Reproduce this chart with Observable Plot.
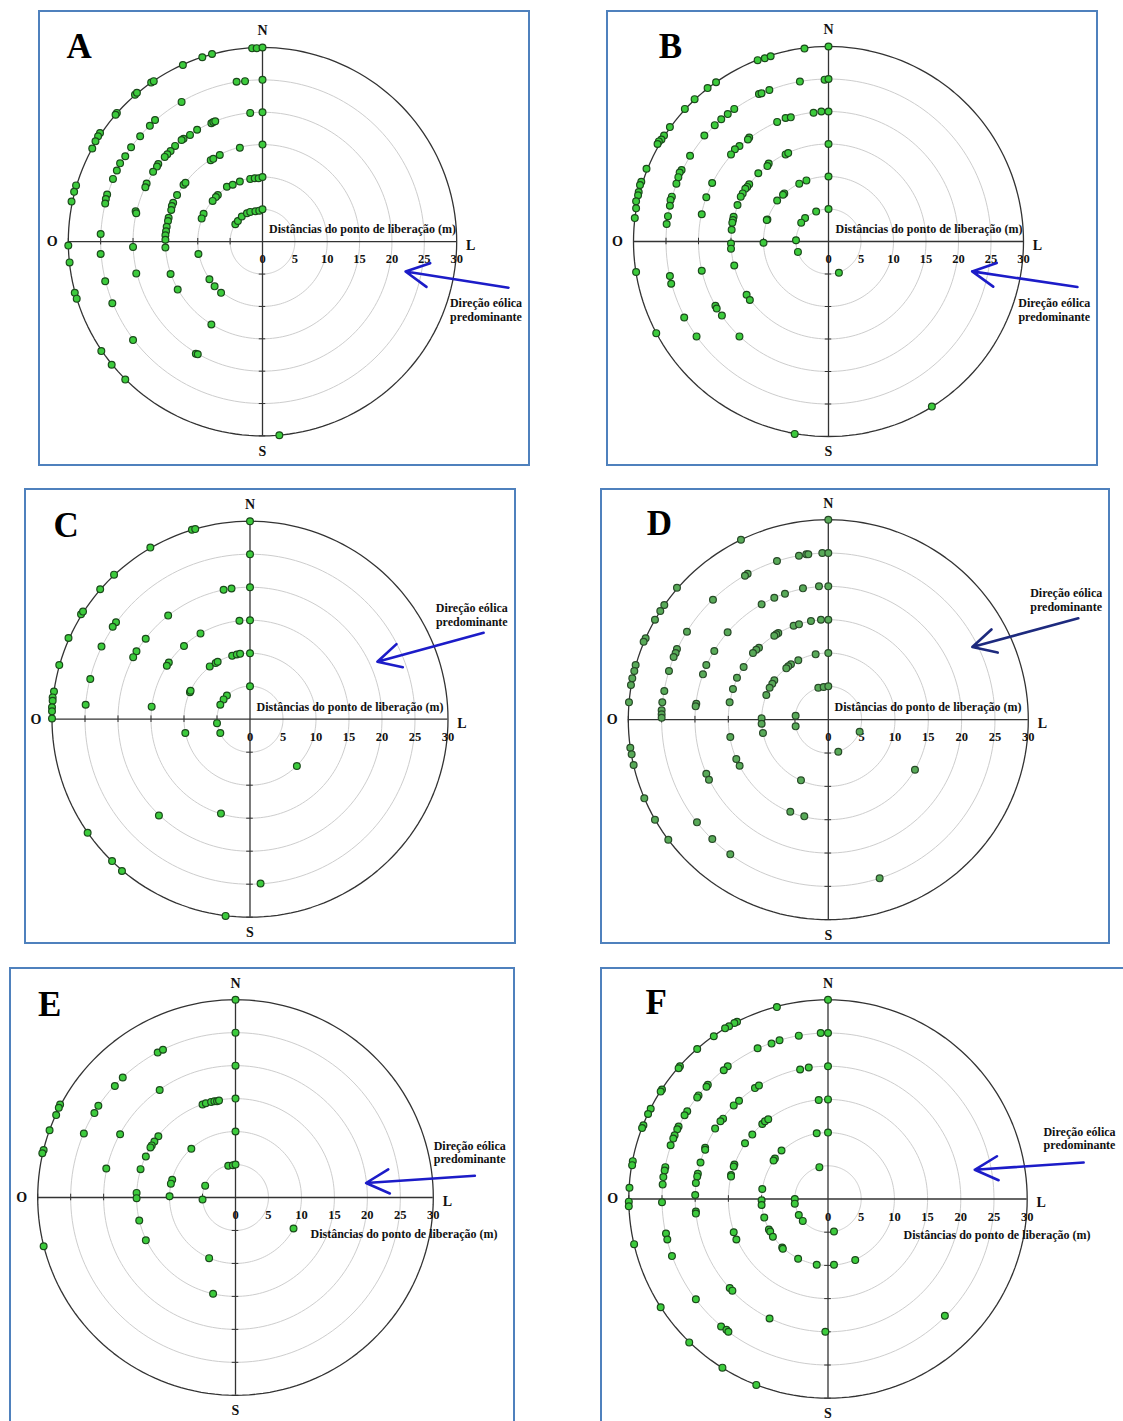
<!DOCTYPE html>
<html>
<head>
<meta charset="utf-8">
<script src="https://cdn.jsdelivr.net/npm/d3@7"></script>
<script src="https://cdn.jsdelivr.net/npm/@observablehq/plot@0.6"></script>
<style>
html,body{margin:0;padding:0;background:#fff;overflow:hidden;}
#page{position:relative;width:1123px;height:1421px;overflow:hidden;background:#fff;}
.panel{position:absolute;}
.panel svg{position:absolute;left:0;top:0;overflow:visible;}
.frame{position:absolute;left:0;top:0;right:0;bottom:0;border:2px solid #4f81bd;box-sizing:border-box;pointer-events:none;}
</style>
</head>
<body>
<div id="page"></div>
<script>
// ---- data: capture points, [east (m), north (m)] relative to the release point ----
const dataA = [
[-1.6,29.9],[-0.9,29.9],[0,30],[-9.3,28.5],[-7.8,29.0],[-12.3,27.3],[-17.2,24.6],[-16.8,24.8],[-19.7,22.7],[-19.4,23.0],[-22.5,19.9],[-22.7,19.6],[-25.1,16.8],[-25.4,16.3],[-25.8,15.5],[-26.3,14.4],[-28.8,8.7],[-29.1,7.7],[-29.5,6.2],[-30,-0.6],[-29.8,-3.2],[-29.0,-7.9],[-28.7,-8.8],[-24.9,-16.9],[-23.3,-19.0],[-21.2,-21.3],[2.6,-29.9],
[-4.0,24.7],[-2.7,24.8],[0,25],[-12.5,21.6],[-16.6,18.8],[-17.4,17.9],[-18.9,16.3],[-20.3,14.6],[-21.2,13.2],[-22.0,12.1],[-22.5,11.0],[-23.1,9.7],[-24.0,7.3],[-24.2,6.6],[-24.3,5.9],[-25.0,1.2],[-25.0,-1.9],[-24.3,-6.1],[-23.2,-9.5],[-20.0,-15.2],
[-1.9,19.9],[0,20],[-7.9,18.3],[-7.6,18.5],[-7.3,18.6],[-10.1,17.3],[-11.2,16.5],[-12.2,15.9],[-12.5,15.7],[-13.5,14.8],[-14.2,14.0],[-14.7,13.5],[-15.1,13.1],[-16.1,12.0],[-16.3,11.6],[-16.9,10.8],[-17.9,9.0],[-18.1,8.4],[-19.6,4.7],[-19.5,4.4],[-20.0,-0.8],[-19.5,-4.9],[-10.3,-17.3],[-10.0,-17.4],
[-3.5,14.5],[0,15],[-8.0,12.6],[-7.6,12.8],[-6.6,13.4],[-12.2,8.8],[-11.9,9.1],[-13.2,7.2],[-13.8,6.0],[-14.0,5.5],[-14.1,4.9],[-14.5,3.7],[-14.6,3.2],[-14.8,2.3],[-14.9,1.6],[-15.0,1.0],[-15.0,0.3],[-15.0,-0.9],[-14.2,-5.0],[-13.1,-7.4],[-7.9,-12.8],
[-3.5,9.3],[-1.9,9.7],[-1.2,9.8],[-0.6,9.8],[0,10],[-5.5,8.5],[-4.6,8.8],[-6.9,7.2],[-7.2,6.9],[-7.7,6.3],[-9.1,4.3],[-9.4,3.6],[-9.9,-1.9],[-8.2,-5.8],[-7.4,-6.9],[-6.4,-7.9],
[-4.2,2.7],[-3.8,3.2],[-3.2,3.9],[-2.4,4.4],[-1.9,4.6],[-1.1,4.7],[-0.5,4.8],[0,5]
];
const dataB = [
[-3.7,29.7],[0,30],[-10.9,27.9],[-9.8,28.2],[-8.9,28.5],[-17.3,24.5],[-18.6,23.6],[-20.6,21.9],[-22.1,20.4],[-24.4,17.6],[-25.3,16.3],[-25.7,15.7],[-26.1,15.4],[-26.3,15.0],[-28.0,11.2],[-28.8,9.2],[-29.0,8.7],[-29.2,7.6],[-29.3,7.1],[-29.6,6.2],[-29.6,5.1],[-29.8,3.6],[-29.6,-4.7],[-26.5,-14.1],[-5.2,-29.6],[15.9,-25.4],
[-4.4,24.6],[-0.6,24.9],[0,25],[-10.7,22.7],[-10.3,22.8],[-9.1,23.3],[-14.5,20.4],[-15.5,19.6],[-16.5,18.8],[-17.5,17.9],[-19.1,16.3],[-21.3,13.2],[-22.6,11.0],[-22.9,10.6],[-23.1,9.9],[-23.4,8.9],[-24.1,6.9],[-24.3,6.4],[-24.4,5.5],[-24.7,3.9],[-24.9,2.7],[-24.4,-5.3],[-24.2,-6.5],[-22.2,-11.7],[-20.3,-14.6],
[-2.3,19.8],[-1.1,20.0],[0,20],[-7.9,18.4],[-6.6,19.0],[-5.8,19.1],[-12.2,16.0],[-12.4,15.7],[-13.7,14.7],[-14.4,14.2],[-15.0,13.4],[-17.9,9.0],[-18.8,6.8],[-19.5,4.2],[-19.5,-4.5],[-17.4,-9.9],[-17.2,-10.3],[-16.4,-11.4],[-13.7,-14.6],
[0,15],[-6.6,13.4],[-6.2,13.6],[-9.2,12.0],[-9.4,11.6],[-10.8,10.5],[-12.2,8.8],[-12.5,8.4],[-12.8,8.1],[-13.2,7.4],[-13.5,6.9],[-14.0,5.6],[-14.6,3.8],[-14.7,3.3],[-14.8,2.9],[-14.9,1.8],[-15.0,-0.3],[-15.0,-1.1],[-14.5,-3.7],[-12.6,-8.2],[-12.1,-9.0],
[0,10],[-4.5,8.9],[-3.4,9.4],[-6.8,7.4],[-7.0,7.2],[-7.9,6.3],[-9.4,3.4],[-9.5,3.3],[-10.0,-0.2],
[-1.9,4.6],[0,5],[-3.6,3.6],[-4.2,2.9],[-5.0,0.2],[-4.7,-1.6],[1.6,-4.8]
];
const dataC = [
[0,30],[-8.8,28.7],[-8.3,28.8],[-15.1,26.0],[-20.6,21.9],[-22.7,19.7],[-25.6,15.9],[-25.3,16.3],[-27.5,12.3],[-28.9,8.2],[-29.7,4.2],[-29.9,3.3],[-29.9,2.8],[-30.0,1.8],[-30.0,1.2],[-30.0,0.1],[-24.6,-17.2],[-20.9,-21.5],[-19.4,-23.0],[-3.7,-29.8],
[0,25],[-20.3,14.7],[-20.8,14.0],[-22.5,11.0],[-24.2,6.1],[-24.9,2.2],[1.6,-24.9],
[-4.0,19.6],[-2.8,19.8],[0,20],[-12.4,15.7],[-15.8,12.2],[-17.2,10.3],[-17.7,9.4],[-13.8,-14.6],
[-1.6,14.9],[0,15],[-7.5,13.0],[-10.0,11.1],[-12.3,8.6],[-12.6,8.1],[-14.9,1.9],[-4.4,-14.3],
[-2.7,9.6],[-2.0,9.8],[-1.5,9.9],[0,10],[-6.1,8.0],[-5.2,8.5],[-4.9,8.7],[-9.1,4.1],[-9.0,4.3],[-9.8,-2.1],[7.1,-7.1],
[0,5],[-3.5,3.6],[-4.0,3.0],[-4.5,2.2],[-5.0,-0.6],[-4.5,-2.1]
];
const dataD = [
[0,30],[-13.1,27.0],[-22.7,19.8],[-24.6,17.2],[-25.2,16.3],[-26.0,15.0],[-27.4,12.2],[-27.7,11.7],[-28.9,8.2],[-29.1,7.3],[-29.4,6.2],[-29.6,5.2],[-29.9,2.6],[-29.7,-4.2],[-29.5,-5.2],[-29.2,-6.8],[-27.6,-11.8],[-26.0,-15.0],[-24.0,-18.0],
[-4.4,24.6],[-3.3,24.8],[-3.0,24.8],[-0.9,25.0],[0,25],[-7.7,23.8],[-12.1,21.9],[-12.5,21.6],[-17.3,18.0],[-21.2,13.2],[-22.7,10.6],[-22.9,10.0],[-23.2,9.4],[-23.9,7.3],[-24.6,4.3],[-24.9,2.6],[-25.0,1.4],[-25.0,0.8],[-25.0,0.3],[-19.7,-15.4],[-17.4,-17.9],[-14.7,-20.2],[7.7,-23.8],
[-3.8,19.7],[-1.4,20.0],[0,20],[-6.5,18.9],[-8.1,18.3],[-10.0,17.3],[-15.1,13.1],[-17.1,10.3],[-18.3,8.2],[-18.8,6.8],[-19.8,2.4],[-19.9,2.0],[-18.3,-8.1],[-17.9,-9.0],
[-5.2,14.1],[-4.4,14.3],[-2.6,14.8],[-1.1,15.0],[0,15],[-7.5,13.0],[-7.8,12.8],[-8.1,12.6],[-10.4,10.8],[-10.8,10.5],[-11.3,10.0],[-12.7,7.9],[-13.7,6.3],[-14.3,4.6],[-14.8,2.6],[-14.7,-2.6],[-13.8,-5.9],[-13.3,-6.9],[-5.7,-13.8],[-3.6,-14.5],[13.0,-7.5],
[-1.9,9.8],[0,10],[-4.5,8.9],[-5.6,8.3],[-6.0,8.0],[-6.3,7.7],[-8.1,5.9],[-8.4,5.4],[-8.8,4.8],[-9.3,3.7],[-10.0,0.2],[-10.0,-0.6],[-9.8,-2.0],[-4.1,-9.1],
[-1.5,4.8],[-0.7,4.9],[0,5],[-4.9,0.6],[-4.9,-1.0],[4.7,-1.8],[1.5,-4.8]
];
const dataE = [
[0,30],[-26.6,14.1],[-26.8,13.6],[-27.2,12.5],[-28.2,10.2],[-29.1,7.2],[-29.3,6.7],[-29.1,-7.4],
[0,25],[-11.8,22.0],[-11.0,22.4],[-17.1,18.2],[-18.3,16.9],[-20.8,13.9],[-21.4,12.8],[-23.0,9.7],
[0,20],[-11.5,16.3],[-17.5,9.6],[-19.6,4.4],
[0,15],[-5.0,14.1],[-4.5,14.3],[-3.7,14.5],[-3.2,14.6],[-2.8,14.6],[-2.5,14.7],[-11.7,9.3],[-12.3,8.5],[-12.7,7.9],[-12.9,7.6],[-13.6,6.2],[-14.4,4.3],[-15.0,0.7],[-15.0,-0.1],[-14.6,-3.5],[-13.6,-6.5],[-3.4,-14.6],
[0,10],[-6.7,7.4],[-9.6,2.7],[-9.8,2.1],[-10.0,0.2],[-4.0,-9.2],[8.8,-4.7],
[-1.1,4.8],[-0.4,4.9],[0,5],[-4.6,1.8],[-5.0,-0.3]
];
const dataF = [
[0,30],[-7.7,28.9],[-13.7,26.7],[-14.1,26.5],[-14.9,26.0],[-15.5,25.7],[-17.2,24.5],[-19.7,22.6],[-22.3,20.0],[-22.5,19.7],[-25.0,16.5],[-25.2,16.2],[-26.7,13.6],[-27.1,12.8],[-27.8,11.1],[-28.0,10.7],[-29.4,5.7],[-29.5,5.1],[-29.9,1.7],[-30.0,-0.4],[-30.0,-1.1],[-29.2,-6.8],[-25.2,-16.3],[-20.9,-21.6],[-15.9,-25.4],[-10.8,-28.0],
[-4.4,24.6],[-1.1,25.0],[0,25],[-7.3,23.9],[-8.5,23.4],[-10.6,22.7],[-15.1,20.0],[-15.7,19.4],[-18.1,17.2],[-18.3,16.9],[-19.5,15.6],[-19.7,15.3],[-21.2,13.2],[-21.6,12.6],[-22.5,10.9],[-22.7,10.5],[-23.1,9.6],[-23.3,9.1],[-23.7,8.1],[-24.5,4.8],[-24.6,4.3],[-24.8,3.3],[-24.9,2.2],[-25.0,-0.5],[-24.4,-5.2],[-24.2,-6.1],[-23.5,-8.6],[-19.9,-15.1],[-16.1,-19.2],[-15.3,-19.7],[-15.0,-20.0],[17.6,-17.6],
[-4.2,19.5],[-2.9,19.8],[0,20],[-11.0,16.7],[-10.4,17.1],[-13.4,14.8],[-14.2,14.1],[-15.8,12.1],[-16.2,11.7],[-17.0,10.6],[-18.5,7.7],[-18.5,7.4],[-19.2,5.5],[-19.6,3.8],[-19.7,3.4],[-19.9,2.4],[-20.0,0.6],[-19.9,-1.9],[-19.9,-2.2],[-14.8,-13.4],[-14.4,-13.8],[-8.8,-18.0],[-0.4,-20.0],
[-1.4,14.9],[0,15],[-9.9,11.3],[-9.5,11.7],[-9.0,12.0],[-11.4,9.7],[-12.5,8.4],[-14.1,5.2],[-14.2,4.9],[-14.6,3.6],[-14.6,3.4],[-14.2,-5.0],[-13.8,-6.1],
[-1.7,9.9],[0,10],[-7.0,7.3],[-8.0,6.1],[-8.2,5.8],[-9.9,1.5],[-10.0,-0.2],[-10.0,-0.9],[-9.6,-2.8],[-8.9,-4.6],[-8.7,-4.9],[-8.3,-5.7],[-6.9,-7.3],[-6.8,-7.5],[-4.5,-9.0],[-1.7,-9.9],[0.9,-9.9],[4.1,-9.2],
[-1.3,4.8],[-5.0,0],[-5.0,-0.7],[-4.4,-2.4],[-3.8,-3.3],[0.9,-4.9]
];
// prevailing wind arrows [x1, y1, x2, y2] in metres (tail -> head)
const windA = [38.0,-7.1,22.1,-4.6];
const windB = [38.3,-7.0,22.1,-4.6];
const windC = [35.4,13.1,19.3,8.7];
const windD = [37.5,15.2,21.6,10.9];
const windE = [36.3,3.3,19.8,2.2];
const windF = [38.5,5.5,22.1,4.4];
const ringDistances = [5,10,15,20,25,30];
const tickLabels = [0,5,10,15,20,25,30];
const panelLetters = ["A","B","C","D","E","F"];
const axisTitle = "Distâncias do ponto de liberação (m)";
const windText = "Direção eólica\npredominante";

// ---- layout (pixels) ----
const layouts = [
 {data:dataA, wind:windA, left:38, top:10, w:492, h:456, cx:262, cy:241.2, R:194.2, letter:[40.7,36.7], title:[6.5,-12.3], windLabel:[223.5,68.2], fill:"#3ccb3c", stroke:"#1b4a1b", arrow:"#1c1cc8"},
 {data:dataB, wind:windB, left:606, top:10, w:492, h:456, cx:828, cy:241, R:195, letter:[64,36.7], title:[7,-12.3], windLabel:[225.8,68.4], fill:"#3ccb3c", stroke:"#1b4a1b", arrow:"#1c1cc8"},
 {data:dataC, wind:windC, left:24, top:488, w:492, h:456, cx:249.5, cy:718.7, R:198, letter:[41.7,37.3], title:[6.5,-12.4], windLabel:[221.8,-104.5], fill:"#3ccb3c", stroke:"#1b4a1b", arrow:"#1c1cc8"},
 {data:dataD, wind:windD, left:600, top:488, w:510, h:456, cx:827.8, cy:719.2, R:200, letter:[59,35.7], title:[6.2,-12.2], windLabel:[237.9,-120.2], fill:"#58aa58", stroke:"#284a28", arrow:"#1d2a7e"},
 {data:dataE, wind:windE, left:8.5, top:967, w:506, h:470, cx:234.5, cy:1197, R:197.8, letter:[40.2,37.3], title:[75,36.3], windLabel:[234.2,-45.1], fill:"#3ccb3c", stroke:"#1b4a1b", arrow:"#1c1cc8"},
 {data:dataF, wind:windF, left:600, top:967, w:540, h:470, cx:827.5, cy:1198.5, R:199.2, letter:[55.7,35.7], title:[75.5,35.8], windLabel:[251.5,-60.8], fill:"#3ccb3c", stroke:"#1b4a1b", arrow:"#1c1cc8"}
];

const ringPts = ringDistances.flatMap(r => d3.range(0, 361, 2).map(a => ({r, x: r*Math.sin(a*Math.PI/180), y: r*Math.cos(a*Math.PI/180)})));
const font = "'Liberation Serif','Times New Roman',serif";
const page = document.getElementById("page");

layouts.forEach((L, i) => {
  const k = L.R / 30;
  const rx = L.cx - L.left, ry = L.cy - L.top;
  const c0 = () => 0;
  const txt = {fontFamily: font, fontWeight: "bold", fill: "#111"};
  const chart = Plot.plot({
    width: L.w, height: L.h, margin: 0,
    x: {domain: [-rx/k, (L.w - rx)/k], axis: null},
    y: {domain: [-(L.h - ry)/k, ry/k], axis: null},
    style: {fontFamily: font, background: "transparent", overflow: "visible"},
    marks: [
      Plot.line(ringPts.filter(p => p.r < 30), {x: "x", y: "y", z: "r", stroke: "#cdcdcd", strokeWidth: 1}),
      Plot.line(ringPts.filter(p => p.r === 30), {x: "x", y: "y", stroke: "#333", strokeWidth: 1.3}),
      Plot.ruleX([0], {y1: -30, y2: 30, stroke: "#333", strokeWidth: 1.3}),
      Plot.ruleY([0], {x1: -30, x2: 30, stroke: "#333", strokeWidth: 1.3}),
      Plot.ruleY(ringDistances.map(d => -d), {x1: -0.5, x2: 0.5, stroke: "#333", strokeWidth: 1}),
      Plot.ruleX(ringDistances.map(d => -d), {y1: -0.5, y2: 0.5, stroke: "#333", strokeWidth: 1}),
      Plot.text(tickLabels, {x: d => d, y: c0, dy: 17.5, text: d => String(d), fontSize: 12.5, ...txt}),
      Plot.text([axisTitle], {x: c0, y: c0, dx: L.title[0], dy: L.title[1], textAnchor: "start", fontSize: 12, ...txt}),
      Plot.text(["N"], {x: c0, y: () => 30, dy: -16.5, fontSize: 14, ...txt}),
      Plot.text(["S"], {x: c0, y: () => -30, dy: 15.5, fontSize: 14, ...txt}),
      Plot.text(["O"], {x: () => -30, y: c0, dx: -16, fontSize: 14, ...txt}),
      Plot.text(["L"], {x: () => 30, y: c0, dx: 14, dy: 4, fontSize: 14, ...txt}),
      Plot.text([windText], {x: c0, y: c0, dx: L.windLabel[0], dy: L.windLabel[1], fontSize: 12, lineHeight: 1.12, lineAnchor: "middle", ...txt}),
      Plot.text([panelLetters[i]], {frameAnchor: "top-left", dx: L.letter[0], dy: L.letter[1], fontSize: 35, textAnchor: "middle", lineAnchor: "middle", ...txt, fill: "#000"}),
      Plot.arrow([L.wind], {x1: d => d[0], y1: d => d[1], x2: d => d[2], y2: d => d[3], stroke: L.arrow, strokeWidth: 2.6, headLength: 15, headAngle: 55}),
      Plot.dot(L.data, {x: d => d[0], y: d => d[1], r: 3.4, fill: L.fill, stroke: L.stroke, strokeWidth: 1.2})
    ]
  });
  const div = document.createElement("div");
  div.className = "panel";
  div.style.left = L.left + "px"; div.style.top = L.top + "px";
  div.style.width = L.w + "px"; div.style.height = L.h + "px";
  div.appendChild(chart);
  const frame = document.createElement("div");
  frame.className = "frame";
  div.appendChild(frame);
  page.appendChild(div);
});
</script>
</body>
</html>
